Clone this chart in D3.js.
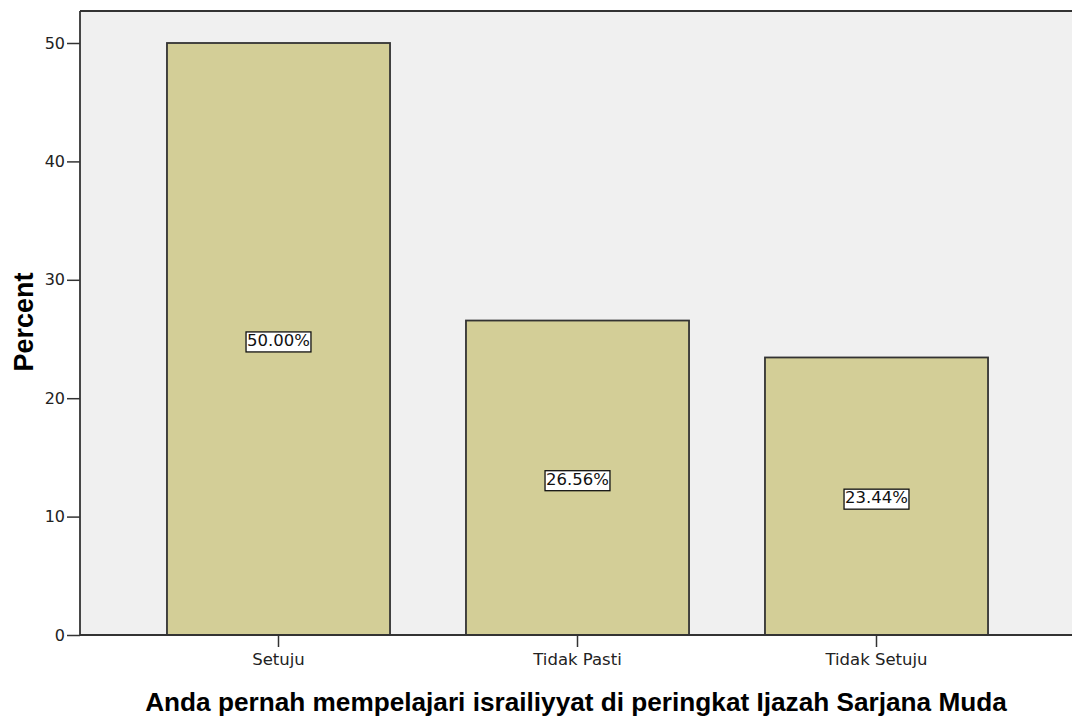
<!DOCTYPE html>
<html>
<head>
<meta charset="utf-8">
<script src="https://cdn.jsdelivr.net/npm/d3@7"></script>
<style>
  body { margin: 0; background: #fff; }
  svg { display: block; font-family: "DejaVu Sans", sans-serif; }
</style>
</head>
<body>
<div id="chart"></div>
<script>
// --- données ---
const categories = ["Setuju", "Tidak Pasti", "Tidak Setuju"];
const percents = [50.00, 26.56, 23.44];
const yTicks = [0, 10, 20, 30, 40, 50];
const xTitle = "Anda pernah mempelajari israiliyyat di peringkat Ijazah Sarjana Muda";
const yTitle = "Percent";

const W = 1072, H = 720;
const plot = {left: 80, top: 11, right: 1072, bottom: 635};
const ink = "#333";

const svg = d3.select("#chart").append("svg")
    .attr("width", W).attr("height", H);

// fond du panneau
svg.append("rect")
    .attr("x", plot.left).attr("y", plot.top)
    .attr("width", plot.right - plot.left).attr("height", plot.bottom - plot.top)
    .attr("fill", "#f0f0f0");

const x = d3.scaleBand().domain(categories)
    .range([129, 1026]).paddingInner(0.254).paddingOuter(0.127);
const y = d3.scaleLinear().domain([0, 50]).range([plot.bottom, 43]);

// barres
svg.selectAll(".bar").data(categories).join("rect")
    .attr("class", "bar")
    .attr("x", d => x(d))
    .attr("y", (d, i) => y(percents[i]))
    .attr("width", x.bandwidth())
    .attr("height", (d, i) => y(0) - y(percents[i]))
    .attr("fill", "#d3ce97")
    .attr("stroke", ink)
    .attr("stroke-width", 1.8);

// cadre du haut
svg.append("line").attr("x1", plot.left).attr("x2", plot.right)
    .attr("y1", plot.top).attr("y2", plot.top)
    .attr("stroke", ink).attr("stroke-width", 1.8);

// axe Y
const yAxis = svg.append("g")
    .attr("transform", `translate(${plot.left},0)`)
    .call(d3.axisLeft(y).tickValues(yTicks).tickSize(13).tickPadding(2));
yAxis.select(".domain").attr("d", `M0,${plot.top}V${plot.bottom}`)
    .attr("stroke", ink).attr("stroke-width", 1.8);
yAxis.selectAll(".tick line").attr("stroke", ink).attr("stroke-width", 1.5);
yAxis.selectAll(".tick text").attr("font-size", 16).attr("fill", "#222")
    .attr("font-family", "DejaVu Sans, sans-serif");

// axe X
const xAxis = svg.append("g")
    .attr("transform", `translate(0,${plot.bottom})`)
    .call(d3.axisBottom(x).tickSize(12).tickPadding(6));
xAxis.select(".domain").attr("d", `M${plot.left},0H${plot.right}`)
    .attr("stroke", ink).attr("stroke-width", 1.8);
xAxis.selectAll(".tick line").attr("stroke", ink).attr("stroke-width", 1.5);
xAxis.selectAll(".tick text").attr("font-size", 16.5).attr("fill", "#222")
    .attr("font-family", "DejaVu Sans, sans-serif");

// étiquettes de valeur
const labels = svg.selectAll(".lab").data(categories).join("g")
    .attr("class", "lab")
    .attr("transform", (d, i) => `translate(${x(d) + x.bandwidth() / 2},${y(percents[i] / 2)})`);
labels.append("text")
    .attr("text-anchor", "middle").attr("dy", "0.42em")
    .attr("font-size", 16.5).attr("fill", "#111")
    .text((d, i) => percents[i].toFixed(2) + "%");
labels.each(function() {
    const g = d3.select(this);
    const b = g.select("text").node().getBBox();
    g.insert("rect", "text")
        .attr("x", b.x - 1).attr("y", b.y + 1)
        .attr("width", b.width + 2).attr("height", b.height + 1)
        .attr("fill", "#fff").attr("stroke", "#111").attr("stroke-width", 1.3);
});

// ajuste la taille de police pour couvrir la largeur voulue
function fitText(sel, target) {
    const len = sel.node().getComputedTextLength();
    const fs = +sel.attr("font-size");
    sel.attr("font-size", fs * target / len);
}

// titres des axes
const xt = svg.append("text")
    .attr("x", 576).attr("y", 711)
    .attr("text-anchor", "middle")
    .attr("font-size", 24).attr("font-weight", "bold").attr("fill", "#000")
    .attr("font-family", "Liberation Sans, Arial, sans-serif")
    .text(xTitle);
fitText(xt, 862);

const yt = svg.append("text")
    .attr("transform", "translate(33,322) rotate(-90)")
    .attr("text-anchor", "middle")
    .attr("font-size", 26).attr("font-weight", "bold").attr("fill", "#000")
    .attr("font-family", "Liberation Sans, Arial, sans-serif")
    .text(yTitle);
fitText(yt, 99);
</script>
</body>
</html>
